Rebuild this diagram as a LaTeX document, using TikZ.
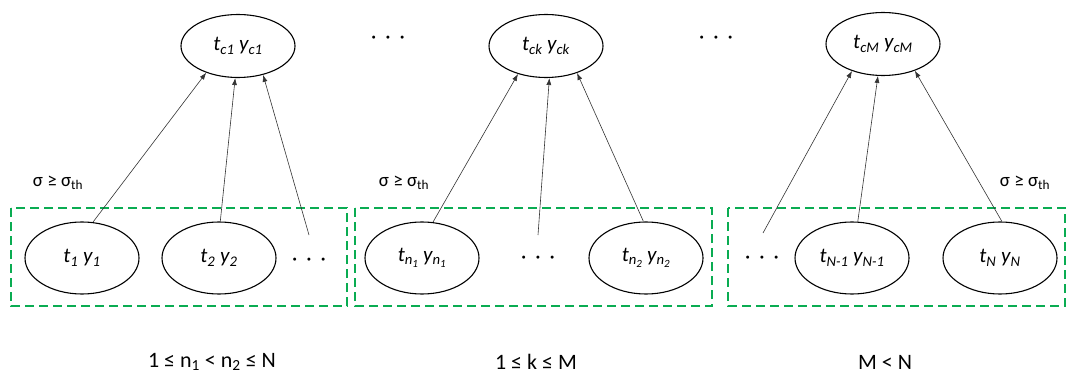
\documentclass[tikz,border=0pt]{standalone}
\usepackage{fontspec}
\setmainfont{Carlito}
\usetikzlibrary{shapes.geometric,arrows.meta}
\definecolor{boxgreen}{RGB}{10,172,82}
\tikzset{
 ell/.style={ellipse, draw, line width=1.1pt, inner sep=0pt, minimum width=114pt, minimum height=72pt, font=\fontsize{21}{24}\selectfont\itshape},
 topell/.style={ell, minimum height=63pt},
 dotsnode/.style={font=\fontsize{21}{21}\selectfont, inner sep=0pt},
 arr/.style={-{Latex[length=7pt,width=5pt]}, line width=0.6pt, draw=black!80},
 gbox/.style={draw=boxgreen, line width=1.4pt, dash pattern=on 9pt off 5pt},
 lab/.style={font=\fontsize{22}{24}\selectfont, inner sep=0pt},
 sig/.style={font=\fontsize{19}{21}\selectfont, inner sep=0pt},
}
\newcommand{\dotrow}{·\hspace{9pt}·\hspace{9pt}·}
\newcommand{\nsub}[1]{n\raisebox{-0.35ex}{\fontsize{11}{11}\selectfont #1}}
\begin{document}
\begin{tikzpicture}[x=1pt,y=-1pt]
\useasboundingbox (0,0) rectangle (1067,385);
% green boxes
\draw[gbox] (11,208) rectangle (347,306);
\draw[gbox] (355,208) rectangle (712,306);
\draw[gbox] (728,208) rectangle (1065,306);
% top nodes
\node[topell] (c1) at (238,46) {t\textsubscript{c1} y\textsubscript{c1}};
\node[topell] (ck) at (546,46) {t\textsubscript{ck} y\textsubscript{ck}};
\node[topell] (cM) at (883,44) {t\textsubscript{cM} y\textsubscript{cM}};
\node[dotsnode] (td1) at (388,40) {\dotrow};
\node[dotsnode] (td2) at (716,40) {\dotrow};
% bottom nodes
\node[ell] (b1) at (82,258) {t\textsubscript{1} y\textsubscript{1}};
\node[ell] (b2) at (219,258) {t\textsubscript{2} y\textsubscript{2}};
\node[dotsnode] (d1) at (309,262) {\dotrow};
\node[ell] (bn1) at (422,258) {t\textsubscript{\nsub{1}} y\textsubscript{\nsub{1}}};
\node[dotsnode] (d2) at (538,260) {\dotrow};
\node[ell] (bn2) at (646,258) {t\textsubscript{\nsub{2}} y\textsubscript{\nsub{2}}};
\node[dotsnode] (d3) at (762,260) {\dotrow};
\node[ell] (bN1) at (852,258) {t\textsubscript{N-1} y\textsubscript{N-1}};
\node[ell] (bN) at (1000,258) {t\textsubscript{N} y\textsubscript{N}};
\coordinate (d1s) at (309,235);
\coordinate (d2s) at (538,235);
\coordinate (d3s) at (763,233);
% arrows
\draw[arr] (b1.73) -- (c1.-140);
\draw[arr] (b2.88) -- (c1.-95);
\draw[arr] (d1s) -- (c1.-49);
\draw[arr] (bn1.73) -- (ck.-135);
\draw[arr] (d2s) -- (ck.-84);
\draw[arr] (bn2.94) -- (ck.-41);
\draw[arr] (d3s) -- (cM.-139);
\draw[arr] (bN1.81) -- (cM.-99);
\draw[arr] (bN.87) -- (cM.-40);
% labels
\node[sig] (s1) at (58,183) {σ ≥ σ\textsubscript{th}};
\node[sig] (s2) at (404,183) {σ ≥ σ\textsubscript{th}};
\node[sig] (s3) at (1025,183) {σ ≥ σ\textsubscript{th}};
\node[lab] (l1) at (212,362) {1 ≤ n\textsubscript{1} < n\textsubscript{2} ≤ N};
\node[lab] (l2) at (536,362) {1 ≤ k ≤ M};
\node[lab] (l3) at (885,362) {M < N};
\end{tikzpicture}
\end{document}
